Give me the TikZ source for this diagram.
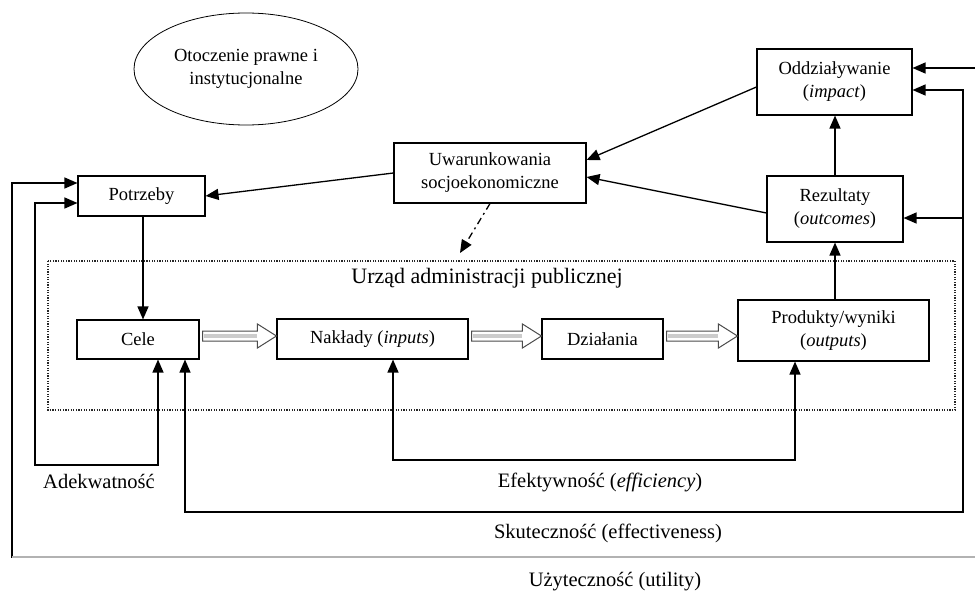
\documentclass[tikz,border=0pt]{standalone}
\usepackage{fontspec}
\setmainfont{Liberation Serif}
\usetikzlibrary{arrows.meta,calc,shapes.geometric}
\tikzset{
  box/.style={draw, line width=1.1pt, align=center, inner sep=2pt,
    font=\fontsize{18.5}{23}\selectfont},
  lbl/.style={font=\fontsize{20.5}{24}\selectfont, inner sep=0pt},
  conn/.style={line width=1.3pt, -{Triangle[length=13pt,width=11pt]}},
  conn2/.style={line width=1.3pt, {Triangle[length=13pt,width=11pt]}-{Triangle[length=13pt,width=11pt]}},
  hollow/.style={draw=gray!60!black, fill=white, line width=1pt, line join=miter},
}
\newcommand\hollowarr[2]{%
  \path let \p1=#1, \p2=#2 in
    [hollow] (\x1,\y1+5pt) -- (\x2-19pt,\y1+5pt) -- (\x2-19pt,\y1+12pt) -- (\x2,\y1)
      -- (\x2-19pt,\y1-12pt) -- (\x2-19pt,\y1-5pt) -- (\x1,\y1-5pt) -- cycle;
  \path let \p1=#1, \p2=#2 in
    [draw=gray!40, line width=4.5pt] (\x1+1pt,\y1) -- (\x2-19.5pt,\y1);
}
\begin{document}
\begin{tikzpicture}[x=1pt,y=-1pt]
\useasboundingbox (0,0) rectangle (975,594);
\fill[white] (0,0) rectangle (975,594);

% environment ellipse
\node[draw, ellipse, line width=0.8pt, minimum width=224pt, minimum height=112pt,
  align=center, font=\fontsize{18.5}{23}\selectfont] (otocz) at (246,69)
  {Otoczenie prawne i\\instytucjonalne};

% dotted office frame
\draw[dash pattern=on 1.2pt off 1.4pt, line width=1.1pt, black!85] (48,261) rectangle (955,410);
\node[font=\fontsize{22}{26}\selectfont] (urzad) at (487,278) {Urząd administracji publicznej};

% boxes
\node[box, minimum width=127pt, minimum height=40pt] (potrz) at (141.5,196) {Potrzeby};
\node[box, minimum width=122pt, minimum height=39pt] (cele) at (138,339.5) {Cele};
\node[box, minimum width=191pt, minimum height=40pt] (nakl) at (372.5,339) {Nakłady (\textit{inputs})};
\node[box, minimum width=121pt, minimum height=40pt] (dzial) at (602.5,339) {Działania};
\node[box, minimum width=191pt, minimum height=61pt] (prod) at (833.5,330.5) {Produkty/wyniki\\(\textit{outputs})};
\node[box, minimum width=136pt, minimum height=66pt] (rez) at (835,209) {Rezultaty\\(\textit{outcomes})};
\node[box, minimum width=155pt, minimum height=66pt] (oddz) at (834.5,82) {Oddziaływanie\\(\textit{impact})};
\node[box, minimum width=192pt, minimum height=60pt] (uwar) at (490,173) {Uwarunkowania\\socjoekonomiczne};

% labels
\node[lbl] (ladek) at (99,481) {Adekwatność};
\node[lbl] (lefek) at (600,482) {Efektywność (\textit{efficiency})};
\node[lbl] (lskut) at (608,533) {Skuteczność (effectiveness)};
\node[lbl] (luzyt) at (615,582) {Użyteczność (utility)};

% flow connectors
\draw[conn] (potrz.south -| 143,0) -- (cele.north -| 143,0);
\draw[conn] (uwar.west) -- (potrz.east);
\draw[conn] ($(oddz.west)+(0,5)$) -- ($(uwar.east)+(0,-13)$);
\draw[conn] ($(rez.west)+(0,4)$) -- ($(uwar.east)+(0,4)$);
\draw[conn] (rez.north) -- (rez.north |- oddz.south);
\draw[conn] (rez.south |- prod.north) -- (rez.south);
\coordinate (dashend) at (460,253);
\draw[line width=1.3pt, dash pattern=on 7pt off 4pt on 2pt off 4pt,
  -{Triangle[length=13pt,width=11pt]}] (uwar.south) -- (dashend);

% hollow process arrows
\hollowarr{($(cele.east)+(3,-3.5)$)}{($(nakl.west)+(0,-3)$)}
\hollowarr{($(nakl.east)+(3,-3)$)}{($(dzial.west)+(0,-3)$)}
\hollowarr{($(dzial.east)+(3,-3)$)}{($(prod.west)+(0,5.5)$)}

% evaluation loops
\coordinate (adq) at (35,465);
\draw[conn2] ($(cele.south)+(20,0)$) |- (adq) |- ($(potrz.west)+(0,7)$);

\coordinate (efbot) at (795,460);
\draw[conn2] ($(nakl.south)+(20.5,0)$) |- (efbot) -- ($(prod.south)+(-38.5,0)$);

\coordinate (skbot) at (963,512);
\coordinate (skbr) at (963,218);
\draw[conn2] ($(cele.south)+(47,0)$) |- (skbot) |- ($(oddz.east)+(0,8)$);
\draw[conn] (skbr) -- ($(rez.east)+(0,9)$);

\coordinate (utl) at (12,557);
\coordinate (utr) at (975,557);
\draw[conn2] ($(potrz.west)+(0,-13)$) -| (utl) -| ($(oddz.east)+(63,-14)$) -- ($(oddz.east)+(0,-14)$);
\draw[gray!60, line width=2.2pt] (utl) -- (utr);
\end{tikzpicture}
\end{document}
